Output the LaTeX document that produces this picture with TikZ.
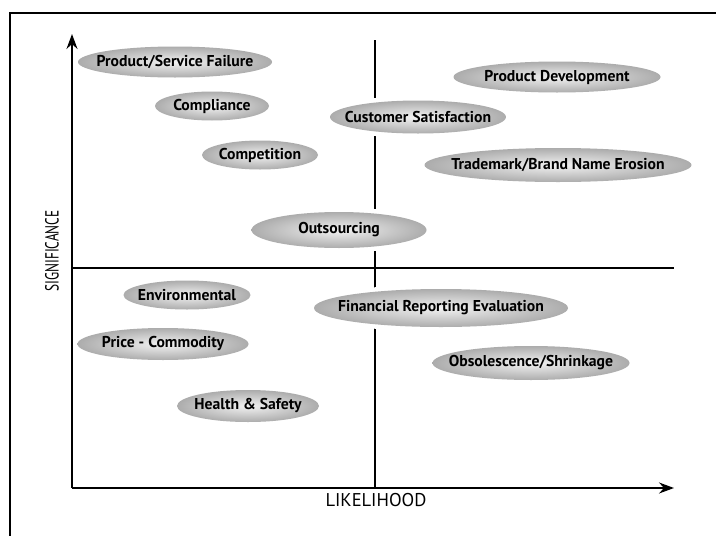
\documentclass[tikz,border=0pt]{standalone}
\usepackage{fontspec}
\setmainfont{PT Sans}
\usetikzlibrary{shapes.geometric,arrows.meta}
\newcommand{\risktext}[1]{\makebox[0pt]{#1}}

\begin{document}
\begin{tikzpicture}[x=1pt,y=-1pt,
  risk/.style={ellipse, inner sep=0pt, minimum height=31pt,
    shading=radial, inner color=gray!10, outer color=gray!65,
    preaction={draw=white, line width=9pt},
    font=\fontsize{15.7}{18}\selectfont\bfseries},
  axis/.style={line width=1.6pt, -{Stealth[length=15pt,width=11pt,inset=5pt]}},
  divider/.style={line width=1.4pt}]
\useasboundingbox (0,0) rectangle (716,536);
\fill[white] (0,0) rectangle (716,536);
\draw [line width=1.5pt] (10,13) rectangle (740,560);

% quadrant lines
\coordinate (O) at (72,488);
\coordinate (ytop) at (72,34);
\coordinate (xend) at (674,488);
\coordinate (vtop) at (375,40);
\coordinate (vbot) at (375,488);
\coordinate (hleft) at (72,268);
\coordinate (hright) at (674,268);
\draw [divider] (vtop) -- (vbot);
\draw [divider] (hleft) -- (hright);

% risks
\node [risk, minimum width=194pt] (psf) at (175,62) {\risktext{Product/Service Failure}};
\node [risk, minimum width=114pt, minimum height=29pt] (comp) at (212,106) {\risktext{Compliance}};
\node [risk, minimum width=116pt, minimum height=29pt] (compet) at (260,155) {\risktext{Competition}};
\node [risk, minimum width=176pt, minimum height=33pt] (csat) at (418,117) {\risktext{Customer Satisfaction}};
\node [risk, minimum width=207pt] (pdev) at (557,77) {\risktext{Product Development}};
\node [risk, minimum width=267pt, minimum height=34pt] (brand) at (558,165) {\risktext{Trademark/Brand Name Erosion}};
\node [risk, minimum width=175pt, minimum height=36pt] (outs) at (339,230) {\risktext{Outsourcing}};
\node [risk, minimum width=127pt, minimum height=29pt] (env) at (187,295) {\risktext{Environmental}};
\node [risk, minimum width=171pt, minimum height=32pt] (price) at (163,344) {\risktext{Price - Commodity}};
\node [risk, minimum width=142pt, minimum height=32pt] (hs) at (248,406) {\risktext{Health \& Safety}};
\node [risk, minimum width=254pt, minimum height=38pt] (fin) at (441,308) {\risktext{Financial Reporting Evaluation}};
\node [risk, minimum width=197pt, minimum height=34pt] (obs) at (531,363) {\risktext{Obsolescence/Shrinkage}};

% axes
\draw [axis] (O) -- (ytop);
\draw [axis] (O) -- (xend);
\node [rotate=90, font=\fontsize{19}{21}\selectfont] (sig) at (52,251) {\scalebox{0.7}[1]{SIGNIFICANCE}};
\node [font=\fontsize{18.5}{20}\selectfont] (lik) at (376,500) {LIKELIHOOD};
\end{tikzpicture}
\end{document}
